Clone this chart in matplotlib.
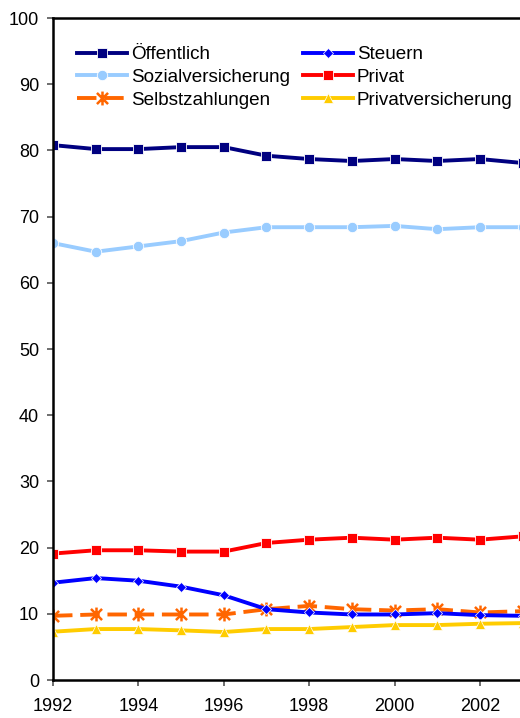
import matplotlib
matplotlib.use("Agg")
import matplotlib.pyplot as plt
from matplotlib.path import Path
from matplotlib.ticker import MultipleLocator

plt.rcParams["font.family"] = ["Liberation Sans", "DejaVu Sans"]

years = list(range(1992, 2004))
oeffentlich = [80.8, 80.2, 80.2, 80.5, 80.5, 79.2, 78.7, 78.4, 78.7, 78.4, 78.7, 78.1]
sozial = [66.0, 64.7, 65.5, 66.3, 67.6, 68.4, 68.4, 68.4, 68.6, 68.1, 68.4, 68.4]
privat = [19.1, 19.6, 19.6, 19.4, 19.4, 20.7, 21.2, 21.5, 21.2, 21.5, 21.2, 21.7]
steuern = [14.7, 15.4, 15.0, 14.1, 12.8, 10.7, 10.2, 9.9, 9.9, 10.1, 9.8, 9.7]
selbst = [9.7, 9.9, 9.9, 9.9, 9.9, 10.7, 11.2, 10.7, 10.5, 10.7, 10.2, 10.4]
privatvers = [7.3, 7.7, 7.7, 7.5, 7.25, 7.7, 7.7, 8.0, 8.3, 8.3, 8.5, 8.6]

# Excel-style star marker: an X with a vertical bar through it
star = Path(
    [(-0.8, -0.8), (0.8, 0.8), (-0.8, 0.8), (0.8, -0.8), (0, -1), (0, 1)],
    [Path.MOVETO, Path.LINETO, Path.MOVETO, Path.LINETO, Path.MOVETO, Path.LINETO],
)

fig = plt.figure(figsize=(5.2, 7.18), dpi=100)
ax = fig.add_axes([0.102, 0.0529, 0.903, 0.922])

lw = 2.8
ax.plot(years, oeffentlich, color="#000080", lw=lw, marker="s", ms=7.5,
        mec="white", mew=0.6, label="Öffentlich")
ax.plot(years, sozial, color="#99CCFF", lw=lw, marker="o", ms=7.5,
        mec="white", mew=0.6, label="Sozialversicherung")
ax.plot(years, selbst, color="#FF6600", lw=lw, ls=(0, (5, 2)), marker=star,
        ms=10, mew=1.8, mfc="none", mec="#FF6600", label="Selbstzahlungen")
ax.plot(years, steuern, color="#0000FF", lw=lw, marker="D", ms=5,
        mec="white", mew=0.5, label="Steuern")
ax.plot(years, privat, color="#FF0000", lw=lw, marker="s", ms=7.5,
        mec="white", mew=0.6, label="Privat")
ax.plot(years, privatvers, color="#FFCC00", lw=lw, marker="^", ms=7.5,
        mec="white", mew=0.5, label="Privatversicherung")

ax.set_xlim(1992, 2003)
ax.set_ylim(0, 100)
ax.xaxis.set_major_locator(MultipleLocator(2))
ax.yaxis.set_major_locator(MultipleLocator(10))
ax.tick_params(direction="out", length=4, width=1.2, color="#555555",
               labelsize=13)
ax.tick_params(axis="x", pad=9)
ax.tick_params(axis="y", pad=6)
for s in ax.spines.values():
    s.set_linewidth(1.8)

ax.legend(loc="upper left", bbox_to_anchor=(0.148, 0.936), bbox_transform=fig.transFigure,
          ncol=2, frameon=False, fontsize=13.6, handlelength=2.65,
          handletextpad=0.2, columnspacing=0.7, labelspacing=0.3,
          borderpad=0, borderaxespad=0)

fig.savefig("out.png", dpi=100)
